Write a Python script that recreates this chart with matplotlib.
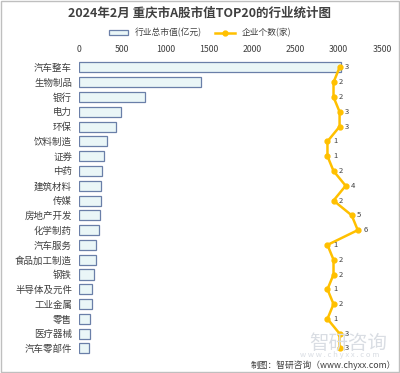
import matplotlib
matplotlib.use("Agg")
import matplotlib.pyplot as plt
from matplotlib.patches import Rectangle, Patch
from matplotlib.lines import Line2D

plt.rcParams["font.family"] = ["Noto Sans CJK SC", "DejaVu Sans"]

industries = ["汽车整车", "生物制品", "银行", "电力", "环保", "饮料制造", "证券", "中药",
              "建筑材料", "传媒", "房地产开发", "化学制药", "汽车服务", "食品加工制造",
              "钢铁", "半导体及元件", "工业金属", "零售", "医疗器械", "汽车零部件"]
market_value = [3023, 1409, 762, 485, 431, 320, 293, 270, 258, 250,
                246, 227, 200, 200, 170, 146, 146, 123, 123, 115]
company_count = [3, 2, 2, 3, 3, 1, 1, 2, 4, 2, 5, 6, 1, 2, 2, 1, 2, 1, 3, 3]
value_ticks = [0, 500, 1000, 1500, 2000, 2500, 3000, 3500]

bar_fill = "#eaf6f7"
bar_edge = "#6a7fa8"
line_color = "#ffc000"

fig = plt.figure(figsize=(4.0, 3.73), dpi=100)
ax = fig.add_axes([0.1975, 0.046, 0.7575, 0.793])

ypos = list(range(len(industries)))
ax.barh(ypos, market_value, height=0.68, color=bar_fill, edgecolor=bar_edge, linewidth=0.9)
ax.set_ylim(len(industries) - 0.5, -0.5)
ax.set_xlim(0, 3500)
ax.set_yticks(ypos)
ax.set_yticklabels(industries, fontsize=6.8, color="#404040")
for s in ax.spines.values():
    s.set_visible(False)

ax2 = ax.twiny()
ax2.plot(company_count, ypos, color=line_color, linewidth=1.8, marker="o", markersize=3.5)
ax2.set_xlim(-40, 10)
ax2.set_ylim(len(industries) - 0.5, -0.5)
ax2.axis("off")
for c, y in zip(company_count, ypos):
    ax2.annotate(str(c), (c, y), xytext=(4, 0), textcoords="offset points",
                 fontsize=5.5, color="#404040", va="center", ha="left")

# value axis on top (after twiny, which moves it)
ax.xaxis.tick_top()
ax.set_xticks(value_ticks)
ax.set_xticklabels([str(v) for v in value_ticks], fontsize=6.3, color="#404040")
ax.tick_params(axis="x", length=0, pad=4, top=True, bottom=False,
               labeltop=True, labelbottom=False)
ax.tick_params(axis="y", length=0, pad=5)

fig.text(0.5, 0.965, "2024年2月 重庆市A股市值TOP20的行业统计图", ha="center", va="center",
         fontsize=9, fontweight="bold", color="#404040")

handles = [Patch(facecolor=bar_fill, edgecolor=bar_edge, linewidth=0.9),
           Line2D([], [], color=line_color, linewidth=1.8, marker="o", markersize=3.5)]
fig.legend(handles, ["行业总市值(亿元)", "企业个数(家)"], loc="center", ncol=2,
           bbox_to_anchor=(0.5, 0.912), frameon=False, fontsize=6.3,
           handlelength=2.2, handleheight=0.6, columnspacing=1.5,
           labelcolor="#404040")

# watermark
fig.text(0.87, 0.08, "智研咨询", ha="center", va="center", fontsize=14,
         color="#d9dde3", zorder=0)
fig.text(0.85, 0.048, "w w w . c h y x x . c o m", ha="center", va="center", fontsize=5.5,
         color="#d9dde3", zorder=0)
fig.text(0.99, 0.021, "制图：智研咨询（www.chyxx.com）", ha="right", va="center",
         fontsize=6.3, color="#404040")

fig.patches.append(Rectangle((0.002, 0.002), 0.996, 0.996, transform=fig.transFigure,
                             fill=False, edgecolor="#bfbfbf", linewidth=1))

plt.savefig("out.png", dpi=100)
